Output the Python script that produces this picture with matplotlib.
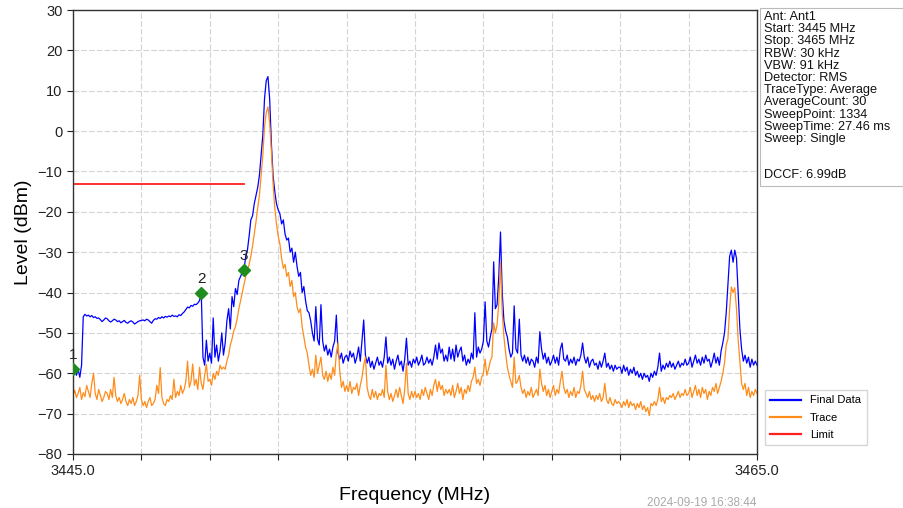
"""Spectrum sweep plot: final data vs trace with limit line and markers."""

import matplotlib

matplotlib.use("Agg")
import matplotlib.pyplot as plt  # noqa: E402
import numpy as np  # noqa: E402

plt.rcParams["font.family"] = ["Liberation Sans", "DejaVu Sans"]

# sweep points, 0.05 MHz apart
freq_mhz = np.linspace(3445.0, 3465.0, 401)

final_data = [
    -59.0, -58.5, -60.5, -59.0, -61.0, -58.0, -46.0, -45.4, -45.8, -45.6, -46.0, -45.7, -46.2, -46.0, -46.4, -46.3, -46.7, -47.2, -46.8, -46.3,
    -46.5, -47.0, -47.3, -47.0, -46.6, -46.8, -47.2, -47.0, -47.5, -47.2, -46.9, -47.4, -47.6, -47.2, -47.0, -47.3, -47.8, -47.5, -47.2, -47.0,
    -46.9, -46.8, -47.0, -46.6, -46.8, -47.2, -47.6, -46.9, -46.5, -46.6, -46.2, -46.4, -46.0, -46.3, -45.9, -46.1, -45.8, -46.0, -45.6, -45.9,
    -45.8, -46.0, -45.5, -45.7, -45.2, -44.8, -44.2, -43.6, -43.8, -43.2, -43.4, -42.9, -43.0, -42.6, -42.0, -40.0, -56.0, -58.0, -51.8, -57.0,
    -55.0, -57.5, -46.3, -56.0, -53.0, -57.0, -54.5, -50.0, -55.5, -52.5, -47.0, -44.0, -49.0, -41.0, -43.5, -39.0, -40.5, -37.0, -36.0, -35.0,
    -34.4, -31.0, -29.5, -26.0, -22.0, -21.0, -18.0, -16.0, -14.0, -11.0, -6.0, -1.0, 8.0, 12.5, 13.5, 8.0, -3.0, -11.0, -15.0, -18.0,
    -19.5, -20.5, -23.0, -22.0, -25.5, -27.0, -26.5, -30.0, -29.0, -32.5, -30.0, -33.5, -36.0, -35.0, -40.0, -38.5, -42.0, -44.5, -45.0, -47.0,
    -50.0, -52.0, -43.5, -51.5, -53.0, -43.0, -52.0, -54.5, -53.0, -55.5, -54.0, -56.0, -53.5, -52.0, -45.6, -55.0, -56.5, -55.0, -57.5, -56.0,
    -55.5, -57.0, -54.5, -56.0, -55.0, -57.5, -56.0, -53.5, -57.0, -52.0, -46.8, -55.5, -57.5, -56.0, -58.5, -57.0, -59.0, -57.5, -56.0, -58.0,
    -57.0, -58.5, -56.0, -51.0, -57.5, -56.0, -58.0, -56.5, -59.0, -57.0, -55.5, -58.0, -57.0, -59.5, -56.5, -51.3, -58.0, -57.0, -58.5, -56.5,
    -57.5, -56.0, -58.0, -57.0, -55.5, -58.0, -57.5, -56.0, -57.5, -56.5, -58.0, -56.0, -53.0, -56.5, -52.5, -55.0, -54.0, -57.0, -55.5, -57.0,
    -53.5, -56.5, -54.0, -57.0, -53.0, -56.0, -54.5, -53.5, -57.0, -55.5, -58.0, -56.5, -57.5, -55.0, -56.5, -45.0, -56.0, -53.5, -55.0, -54.0,
    -52.0, -42.3, -52.0, -53.5, -51.0, -49.0, -32.4, -44.0, -43.0, -36.0, -25.0, -40.0, -47.0, -49.5, -51.0, -54.0, -56.0, -55.0, -43.3, -54.0,
    -55.0, -46.6, -55.5, -57.0, -55.5, -57.5, -56.0, -58.0, -56.5, -57.0, -58.5, -56.0, -57.5, -49.7, -54.0, -56.5, -55.0, -57.5, -56.0, -58.0,
    -57.0, -55.5, -57.5, -56.0, -58.0, -54.0, -52.5, -56.5, -57.0, -55.5, -58.0, -56.5, -57.5, -56.0, -58.0, -56.5, -57.0, -55.5, -52.5, -56.0,
    -57.5, -56.0, -58.5, -57.0, -56.5, -58.0, -57.5, -59.0, -57.0, -58.5, -57.0, -55.0, -58.5, -57.5, -59.0, -58.0, -59.5, -58.0, -59.0, -58.5,
    -58.5, -60.0, -58.0, -59.5, -58.5, -60.5, -59.0, -60.0, -58.5, -60.5, -59.5, -61.0, -60.0, -61.5, -60.0, -61.0, -60.5, -62.0, -60.0, -61.0,
    -59.5, -60.5, -58.5, -55.0, -59.5, -58.0, -59.0, -57.5, -58.5, -57.0, -58.5, -57.5, -59.0, -58.0, -57.0, -58.5, -57.5, -58.0, -56.5, -58.0,
    -57.5, -56.0, -58.5, -57.0, -55.5, -57.5, -56.5, -58.0, -56.0, -57.5, -55.5, -57.0, -56.5, -58.5, -57.0, -55.0, -57.5, -56.0, -58.0, -54.5,
    -52.5, -50.0, -45.0, -38.0, -31.0, -29.5, -32.5, -29.5, -31.5, -40.0, -49.0, -54.0, -57.0, -55.5, -57.5, -56.0, -58.5, -56.5, -58.0, -57.0,
    -58.0,
]

trace = [
    -65.5, -64.2, -66.0, -65.0, -63.5, -66.5, -64.8, -65.8, -63.0, -64.5, -66.0, -62.5, -60.0, -65.0, -66.5, -64.0, -65.5, -67.0, -66.0, -64.5,
    -65.0, -66.5, -64.0, -66.0, -61.0, -65.5, -67.0, -66.0, -67.5, -66.5, -65.0, -67.0, -68.0, -66.5, -67.5, -66.0, -68.0, -67.0, -65.5, -60.5,
    -66.5, -68.0, -67.0, -68.5, -67.0, -66.0, -68.0, -67.5, -66.5, -63.0, -65.0, -58.6, -66.0, -67.5, -68.0, -66.5, -67.0, -65.5, -66.5, -61.5,
    -66.0, -64.5, -65.5, -63.0, -65.0, -64.0, -62.0, -57.0, -63.5, -62.0, -57.7, -63.0, -61.5, -64.0, -58.5, -62.5, -64.0, -60.5, -57.8, -62.0,
    -61.5, -63.0, -60.0, -61.5, -59.5, -60.5, -58.0, -59.0, -58.5, -59.0, -57.0, -55.5, -53.0, -51.5, -49.5, -48.5, -46.5, -44.0, -42.0, -40.0,
    -38.0, -36.0, -34.5, -33.0, -31.0, -28.5, -25.5, -22.5, -19.0, -16.0, -11.0, -6.0, 1.0, 4.5, 6.0, 2.0, -5.0, -13.0, -19.0, -23.0,
    -26.0, -28.0, -31.5, -34.0, -33.0, -36.0, -35.0, -38.5, -37.0, -41.0, -40.0, -43.5, -45.0, -44.0, -48.5, -51.0, -53.5, -55.0, -58.0, -60.5,
    -59.0, -61.0, -55.5, -60.0, -58.0, -56.0, -60.5, -61.5, -59.5, -62.0, -60.0, -61.5, -58.5, -60.5, -55.0, -52.5, -59.5, -63.5, -62.0, -64.5,
    -63.0, -64.5, -62.0, -65.0, -63.5, -64.0, -62.5, -65.5, -63.0, -61.0, -58.0, -56.0, -63.5, -65.5, -66.5, -64.0, -66.0, -64.5, -66.5, -65.0,
    -65.5, -64.0, -66.0, -58.0, -64.5, -66.5, -65.0, -67.0, -65.5, -64.0, -66.0, -63.5, -65.5, -67.5, -64.0, -57.5, -65.0, -66.5, -64.5, -66.0,
    -64.5, -66.0, -65.0, -66.5, -64.0, -65.5, -63.5, -65.0, -66.5, -64.0, -65.5, -63.0, -61.5, -64.5, -62.0, -64.0, -63.0, -65.5, -64.0, -65.0,
    -64.0, -65.5, -63.0, -66.0, -64.5, -62.5, -65.0, -63.5, -66.5, -64.0, -65.0, -63.0, -64.5, -62.0, -61.0, -58.5, -62.5, -61.5, -63.0, -61.0,
    -60.0, -56.5, -60.5, -59.0, -57.0, -56.0, -47.5, -50.0, -48.0, -42.5, -32.5, -45.0, -51.0, -55.0, -58.5, -60.5, -62.0, -63.5, -56.0, -62.5,
    -62.0, -60.5, -63.5, -65.0, -64.0, -66.0, -64.5, -65.5, -63.5, -66.0, -65.0, -64.0, -65.5, -59.0, -62.5, -64.5, -63.0, -65.5, -64.0, -66.0,
    -64.5, -63.0, -65.5, -64.0, -65.0, -62.0, -59.5, -63.5, -65.0, -64.0, -66.0, -64.5, -65.5, -63.5, -66.0, -64.5, -65.0, -63.0, -59.5, -64.0,
    -65.0, -66.0, -64.5, -66.5, -65.5, -67.0, -65.5, -66.5, -65.0, -67.0, -66.0, -62.5, -66.5, -67.5, -66.0, -67.5, -68.0, -66.5, -67.5, -67.0,
    -67.5, -68.5, -67.0, -68.0, -66.5, -68.5, -67.0, -68.0, -67.5, -69.0, -67.5, -68.5, -67.0, -69.0, -68.0, -69.5, -68.5, -70.5, -67.5, -68.0,
    -67.0, -68.0, -66.5, -63.5, -67.0, -66.0, -67.5, -66.0, -66.5, -65.5, -66.0, -65.0, -66.5, -65.5, -64.5, -66.0, -65.0, -65.5, -64.0, -65.5,
    -65.0, -63.5, -66.0, -64.5, -63.0, -65.5, -64.0, -66.0, -63.5, -65.0, -64.0, -66.5, -64.5, -65.5, -63.5, -64.5, -62.5, -65.0, -63.5, -62.0,
    -60.0, -57.5, -53.0, -51.5, -44.0, -38.6, -40.0, -38.8, -44.0, -51.8, -57.0, -62.5, -64.0, -62.5, -65.5, -63.5, -66.0, -64.5, -65.5, -64.0,
    -65.0,
]

limit_freq = [3445.0, 3450.0]
limit_level = [-13.0, -13.0]

marker_labels = ["1", "2", "3"]
marker_freq = [3445.0, 3448.75, 3450.0]
marker_level = [-59.0, -40.0, -34.4]

info_lines = [
    "Ant: Ant1",
    "Start: 3445 MHz",
    "Stop: 3465 MHz",
    "RBW: 30 kHz",
    "VBW: 91 kHz",
    "Detector: RMS",
    "TraceType: Average",
    "AverageCount: 30",
    "SweepPoint: 1334",
    "SweepTime: 27.46 ms",
    "Sweep: Single",
]
dccf_text = "DCCF: 6.99dB"
timestamp = "2024-09-19 16:38:44"

W, H = 904, 508
fig = plt.figure(figsize=(W / 100, H / 100), dpi=100)
ax = fig.add_axes([73 / W, 1 - 454 / H, (757 - 73) / W, (454 - 10) / H])

l_final, = ax.plot(freq_mhz, final_data, color="#0000ff", lw=0.9, label="Final Data")
l_trace, = ax.plot(freq_mhz, trace, color="#ff8c1a", lw=0.9, label="Trace")
l_limit, = ax.plot(limit_freq, limit_level, color="#ff2020", lw=1.3, label="Limit")

ax.plot(marker_freq, marker_level, ls="none", marker="D", ms=6.5,
        color="#1e8c1e", zorder=5)
for lab, f, lv in zip(marker_labels, marker_freq, marker_level):
    ax.annotate(lab, (f, lv), xytext=(0, 5), textcoords="offset points",
                ha="center", va="bottom", fontsize=11, color="#202020")

ax.set_xlim(3445.0, 3465.0)
ax.set_ylim(-80, 30)
ax.set_yticks(np.arange(-80, 31, 10))
xt = np.arange(3445.0, 3465.1, 2.0)
ax.set_xticks(xt)
ax.set_xticklabels(["3445.0"] + [""] * (len(xt) - 2) + ["3465.0"])
ax.tick_params(labelsize=10.5, length=4, direction="out", colors="#222222")
ax.grid(True, color="#d4d4d4", lw=0.8, ls=(0, (5, 2)))
for s in ax.spines.values():
    s.set_color("#333333")
    s.set_linewidth(1.0)

ax.set_xlabel("Frequency (MHz)", fontsize=14, labelpad=6)
ax.set_ylabel("Level (dBm)", fontsize=14, labelpad=4)

# info box on the right
box = plt.Rectangle((760 / W, 1 - 186 / H), (903 - 760) / W, (186 - 8) / H,
                    transform=fig.transFigure, fill=False, ec="#bbbbbb", lw=0.8)
fig.add_artist(box)
for i, line in enumerate(info_lines):
    fig.text(764 / W, 1 - (17 + 12.2 * i) / H, line, fontsize=9.2,
             va="center", ha="left", color="#111111")
fig.text(764 / W, 1 - 175 / H, dccf_text, fontsize=9.2, va="center",
         ha="left", color="#111111")

leg = fig.legend(handles=[l_final, l_trace, l_limit], loc="lower left",
                 bbox_to_anchor=(759 / W, 1 - 451 / H), fontsize=8,
                 frameon=True, edgecolor="#cccccc", fancybox=False,
                 handlelength=2.8, labelspacing=0.65, borderpad=0.5)
for lh in leg.get_lines():
    lh.set_linewidth(1.6)

fig.text(757 / W, 1 - 503 / H, timestamp, fontsize=8.5, color="#aaaaaa",
         ha="right", va="center")

fig.savefig("out.png", dpi=100)
